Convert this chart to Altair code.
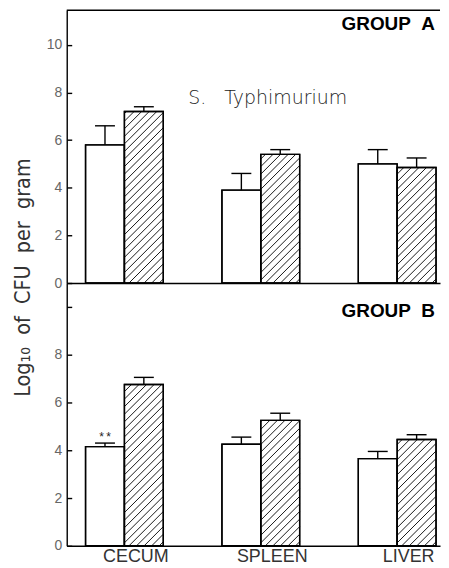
import math
import altair as alt
import pandas as pd

# ---------------- data ----------------
categories = ["CECUM", "SPLEEN", "LIVER"]
series_names = ["open", "hatched"]

a_open = [5.8, 3.9, 5.0]
a_open_err = [0.8, 0.7, 0.6]
a_hatched = [7.2, 5.4, 4.85]
a_hatched_err = [0.2, 0.2, 0.4]

b_open = [4.15, 4.25, 3.65]
b_open_err = [0.15, 0.3, 0.3]
b_hatched = [6.75, 5.25, 4.45]
b_hatched_err = [0.3, 0.3, 0.2]
b_open_marks = ["*\u2009*", "", ""]

y_ticks = [0, 2, 4, 6, 8, 10]

# ---------------- layout ----------------
W = 375
HA = 274
HB = 264
X_DOM = [-0.423, 2.314]
YA_DOM = [0, 11.45]
YB_DOM = [0, 11.0]
BW = 0.285          # bar width (x units)
CAP = 0.073         # half cap width
HATCH = 7.6         # hatch spacing in px
LW = 1.4

NARROW = "Liberation Sans Narrow, DejaVu Sans Condensed, Arial Narrow, sans-serif"
SANS = "Liberation Sans, Arial, sans-serif"


def bar_table(group, opens, open_errs, hatcheds, hatched_errs, marks=None):
    rows = []
    for i, cat in enumerate(categories):
        pairs = [(opens[i], open_errs[i]), (hatcheds[i], hatched_errs[i])]
        for side, (v, e) in enumerate(pairs):
            x0 = i - BW + side * BW
            rows.append(dict(group=group, category=cat, series=series_names[side],
                             x0=x0, x1=x0 + BW, value=v, err=e,
                             mark=(marks[i] if (marks and side == 0) else "")))
    return pd.DataFrame(rows)


def hatch_table(bars, ydom, h):
    kx = W / (X_DOM[1] - X_DOM[0])
    ky = h / (ydom[1] - ydom[0])
    rows = []
    for _, r in bars[bars.series == "hatched"].iterrows():
        w = BW * kx
        H = r.value * ky
        k0 = math.ceil(-w / HATCH)
        k1 = math.floor(H / HATCH)
        for k in range(k0, k1 + 1):
            c = k * HATCH + 3
            X0 = max(0.0, -c)
            X1 = min(w, H - c)
            if X1 - X0 < 0.6:
                continue
            rows.append(dict(hx0=r.x0 + X0 / kx, hx1=r.x0 + X1 / kx,
                             hy0=(X0 + c) / ky, hy1=(X1 + c) / ky))
    return pd.DataFrame(rows)


def panel(bars, ydom, h, xaxis, yaxis, group_label, group_y, extra=None):
    xs = alt.Scale(domain=X_DOM, nice=False, zero=False)
    ys = alt.Scale(domain=ydom, nice=False, zero=False)
    hatch = hatch_table(bars, ydom, h)

    base = alt.Chart(bars).transform_calculate(
        xc="(datum.x0 + datum.x1) / 2",
        top="datum.value + datum.err",
    ).transform_calculate(
        c0=f"datum.xc - {CAP}",
        c1=f"datum.xc + {CAP}",
    )

    fill = base.mark_rect(fill="white", stroke="black", strokeWidth=LW).encode(
        x=alt.X("x0:Q", scale=xs, axis=xaxis),
        x2="x1:Q",
        y=alt.Y("value:Q", scale=ys, axis=yaxis),
        y2=alt.datum(0),
    )
    hat = alt.Chart(hatch).mark_rule(color="black", strokeWidth=0.9).encode(
        x=alt.X("hx0:Q", scale=xs),
        x2="hx1:Q",
        y=alt.Y("hy0:Q", scale=ys),
        y2="hy1:Q",
    )
    outline = base.mark_rect(fillOpacity=0, stroke="black", strokeWidth=LW).encode(
        x=alt.X("x0:Q", scale=xs),
        x2="x1:Q",
        y=alt.Y("value:Q", scale=ys),
        y2=alt.datum(0),
    )
    err = base.mark_rule(color="black", strokeWidth=LW).encode(
        x=alt.X("xc:Q", scale=xs),
        y=alt.Y("value:Q", scale=ys),
        y2="top:Q",
    )
    cap = base.mark_rule(color="black", strokeWidth=LW).encode(
        x=alt.X("c0:Q", scale=xs),
        x2="c1:Q",
        y=alt.Y("top:Q", scale=ys),
    )
    glabel = alt.Chart(pd.DataFrame({"t": [group_label]})).mark_text(
        align="right", baseline="middle", font=SANS, fontWeight="bold",
        fontSize=19, color="black",
    ).encode(x=alt.value(W - 5), y=alt.value(group_y), text="t:N")

    layers = [fill, hat, outline, err, cap, glabel]
    if (bars["mark"] != "").any():
        sig = base.transform_filter("datum.mark != ''").mark_text(
            baseline="bottom", dy=1, fontSize=12, font=SANS, color="#222"
        ).encode(
            x=alt.X("xc:Q", scale=xs),
            y=alt.Y("top:Q", scale=ys),
            text="mark:N",
        )
        layers.append(sig)
    if extra is not None:
        layers.extend(extra)
    return alt.layer(*layers).properties(width=W, height=h)


def y_axis(**kw):
    return alt.Axis(
        values=y_ticks, grid=True, gridDash=[5, 2000], gridColor="black",
        gridWidth=LW, gridOpacity=1, ticks=False, tickSize=0,
        domain=True, domainColor="black", domainWidth=LW,
        labelFont=SANS, labelFontSize=14, labelColor="#666", labelPadding=5,
        labelOverlap=False, labelFlush=False, **kw,
    )


bars_a = bar_table("A", a_open, a_open_err, a_hatched, a_hatched_err)
bars_b = bar_table("B", b_open, b_open_err, b_hatched, b_hatched_err, b_open_marks)

xaxis_a = alt.Axis(labels=False, ticks=False, grid=False, domain=True,
                   domainColor="black", domainWidth=LW, title=None)
label_expr = "[" + ",".join(f"'{c}'" for c in categories) + "][datum.value]"
xaxis_b = alt.Axis(values=[0, 1, 2], labelExpr=label_expr, ticks=False, grid=False,
                   domain=True, domainColor="black", domainWidth=LW,
                   labelFont=SANS, labelFontSize=18, labelColor="#333",
                   labelPadding=2, labelOffset=11, labelOverlap=False,
                   labelFlush=False, title=None)

yaxis_a = y_axis(
    title="Log\u2081\u2080\u00a0\u00a0of\u00a0\u00a0CFU\u00a0\u00a0per\u00a0\u00a0gram",
    titleFont=NARROW, titleFontSize=21.5, titleFontWeight="normal",
    titleColor="#333", titleAngle=270, titleBaseline="alphabetic",
    titleAlign="center", titleX=-37, titleY=268,
)
yaxis_b = y_axis(labelExpr="datum.value == 10 ? '' : datum.label", title=None)

species = alt.Chart(pd.DataFrame({"t": ["S.\u00a0\u00a0\u00a0Typhimurium"]})).mark_text(
    align="left", baseline="middle", font="DejaVu Sans", fontWeight=300,
    fontSize=19, color="#222",
).encode(x=alt.value(122), y=alt.value(88), text="t:N")

top_line = alt.Chart(pd.DataFrame({"t": [0]})).mark_rule(
    color="black", strokeWidth=LW
).encode(x=alt.value(0), x2=alt.value(W), y=alt.value(0))

panel_a = panel(bars_a, YA_DOM, HA, xaxis_a, yaxis_a, "GROUP\u00a0\u00a0A", 14,
                extra=[species, top_line])
panel_b = panel(bars_b, YB_DOM, HB, xaxis_b, yaxis_b, "GROUP\u00a0\u00a0B", 28.5)

chart = alt.vconcat(panel_a, panel_b, spacing=0, bounds="flush").properties(
    padding={"left": 4, "top": 0, "right": 0, "bottom": 0}
).configure_view(strokeWidth=0)

chart.save("out.html", embed_options={"renderer": "svg", "actions": False})
